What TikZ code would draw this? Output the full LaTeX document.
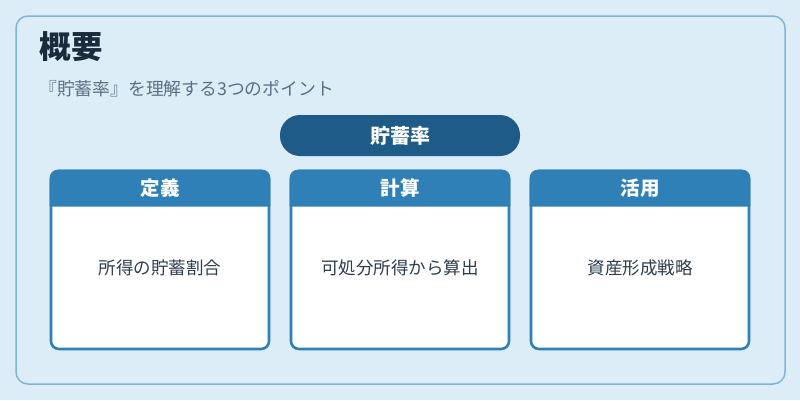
\documentclass[tikz,border=0pt]{standalone}
\usepackage{fontspec}
\setmainfont{Noto Sans CJK JP}
\usetikzlibrary{positioning}
\definecolor{bgblue}{HTML}{DDEDF8}
\definecolor{frameblue}{HTML}{7DB5D8}
\definecolor{pillblue}{HTML}{1F5B88}
\definecolor{cardblue}{HTML}{2E80B6}
\definecolor{titleink}{HTML}{1A2B3C}
\definecolor{subink}{HTML}{5B7083}
\definecolor{bodyink}{HTML}{2C3E50}
\tikzset{
  card/.style={draw=cardblue, line width=2.6pt, fill=white, rounded corners=8pt,
    minimum width=218pt, minimum height=178pt, inner sep=0pt},
  headtext/.style={text=white, font=\bfseries\fontsize{19.5}{22}\selectfont},
  bodytext/.style={text=bodyink, font=\fontsize{17.5}{20}\selectfont}
}
\begin{document}
\begin{tikzpicture}[x=1pt,y=-1pt]
\useasboundingbox (0,0) rectangle (800,400);
\fill[bgblue] (0,0) rectangle (800,400);
\draw[frameblue, line width=1.5pt, rounded corners=12pt] (16,16) rectangle (785,384);
\node[anchor=west, text=titleink, font=\bfseries\fontsize{31.5}{34}\selectfont, inner sep=0pt] (title) at (39.5,47) {概要};
\node[anchor=west, text=subink, font=\fontsize{17.8}{20}\selectfont, inner sep=0pt] (sub) at (39,89) {『貯蓄率』を理解する3つのポイント};
\node[fill=pillblue, rounded corners=20pt, minimum width=240pt, minimum height=41pt, inner sep=0pt,
  text=white, font=\bfseries\fontsize{20}{23}\selectfont] (rate) at (400,135.5) {貯蓄率};
% cards
\node[card] (def) at (160,260) {};
\node[card] (calc) at (400,260) {};
\node[card] (use) at (640,260) {};
\fill[cardblue] ([yshift=-37pt]def.north west) [rounded corners=8pt] -- (def.north west) -- (def.north east) [sharp corners] -- ([yshift=-37pt]def.north east) -- cycle;
\fill[cardblue] ([yshift=-37pt]calc.north west) [rounded corners=8pt] -- (calc.north west) -- (calc.north east) [sharp corners] -- ([yshift=-37pt]calc.north east) -- cycle;
\fill[cardblue] ([yshift=-37pt]use.north west) [rounded corners=8pt] -- (use.north west) -- (use.north east) [sharp corners] -- ([yshift=-37pt]use.north east) -- cycle;
\node[headtext] (defh) at (160,188) {定義};
\node[headtext] (calch) at (400,188) {計算};
\node[headtext] (useh) at (640,188) {活用};
\node[bodytext] (defb) at (160,268) {所得の貯蓄割合};
\node[bodytext] (calcb) at (400,268) {可処分所得から算出};
\node[bodytext] (useb) at (640,268) {資産形成戦略};
\end{tikzpicture}
\end{document}
